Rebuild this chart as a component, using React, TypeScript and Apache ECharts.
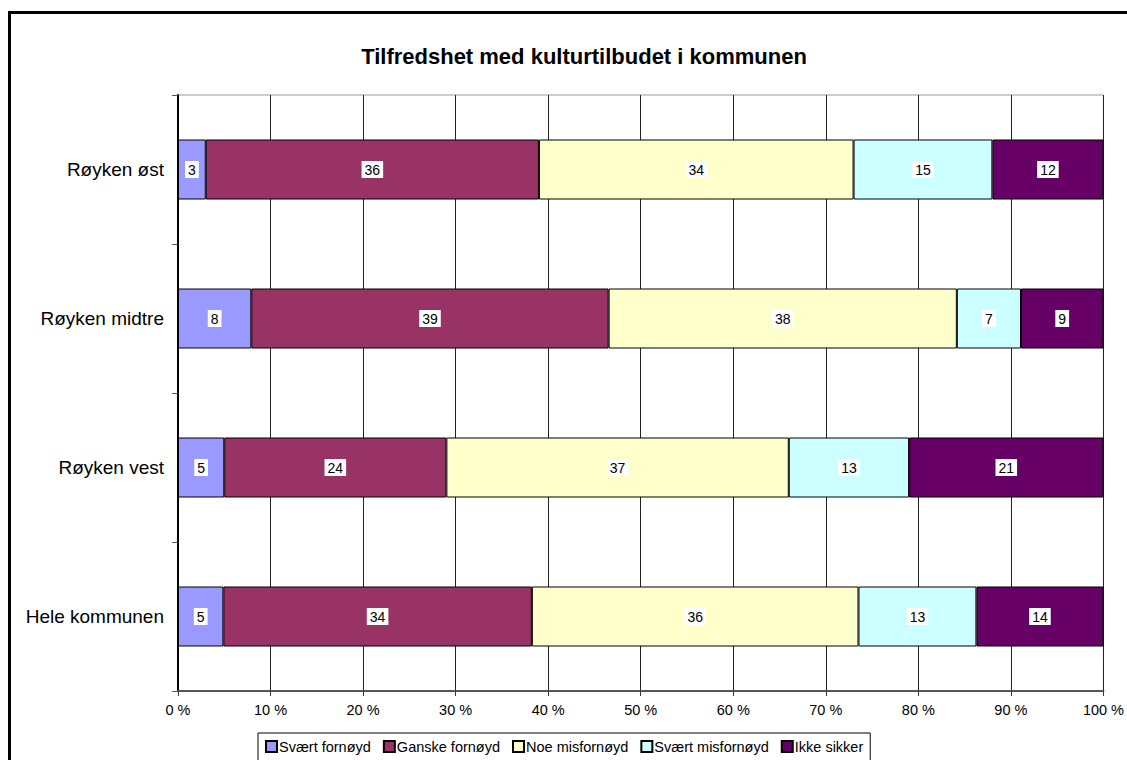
import React, { useEffect, useRef } from "react";
import * as echarts from "echarts";

const categories = ["Røyken øst", "Røyken midtre", "Røyken vest", "Hele kommunen"];
const seriesNames = ["Svært fornøyd", "Ganske fornøyd", "Noe misfornøyd", "Svært misfornøyd", "Ikke sikker"];
const sveartFornoyd = [3, 8, 5, 5];
const ganskeFornoyd = [36, 39, 24, 34];
const noeMisfornoyd = [34, 38, 37, 36];
const sveartMisfornoyd = [15, 7, 13, 13];
const ikkeSikker = [12, 9, 21, 14];
const colors = ["#9999FF", "#993366", "#FFFFCC", "#CCFFFF", "#660066"];
const xTicks = [0, 10, 20, 30, 40, 50, 60, 70, 80, 90, 100];

const FONT = "Arial, 'Liberation Sans', sans-serif";

export default function App() {
  const ref = useRef<HTMLDivElement>(null);
  useEffect(() => {
    if (!ref.current) return;
    const chart = echarts.init(ref.current, undefined, { renderer: "svg" });
    const raw = [sveartFornoyd, ganskeFornoyd, noeMisfornoyd, sveartMisfornoyd, ikkeSikker];
    const totals = categories.map((_, i) => raw.reduce((s, arr) => s + arr[i], 0));
    const series = raw.map((arr, si) => ({
      name: seriesNames[si],
      type: "bar",
      stack: "total",
      barWidth: 60,
      itemStyle: { color: colors[si], borderColor: "#000", borderWidth: 1 },
      label: {
        show: true,
        position: "inside",
        formatter: (p: any) => String(arr[p.dataIndex]),
        color: "#000",
        fontSize: 14,
        fontFamily: FONT,
        backgroundColor: "#fff",
        padding: [2, 3, 1, 3],
      },
      emphasis: { disabled: true },
      data: arr.map((v, i) => (v / totals[i]) * 100),
    }));
    chart.setOption({
      animation: false,
      backgroundColor: "#fff",
      title: {
        text: "Tilfredshet med kulturtilbudet i kommunen",
        left: 579,
        top: 40,
        textAlign: "center",
        textStyle: { fontSize: 22, fontWeight: "bold", color: "#000", fontFamily: FONT },
      },
      graphic: [
        {
          type: "rect",
          shape: { x: 9.5, y: 12.5, width: 1200, height: 800 },
          style: { fill: "none", stroke: "#000", lineWidth: 3 },
          silent: true,
          z: 100,
        },
      ],
      legend: {
        left: 258,
        top: 733,
        itemWidth: 11,
        itemHeight: 11,
        itemGap: 12,
        icon: "rect",
        borderColor: "#000",
        borderWidth: 1,
        padding: [6, 7, 10, 7],
        textStyle: { fontSize: 14.5, color: "#000", fontFamily: FONT, padding: [0, 0, 0, -3] },
        data: seriesNames,
      },
      grid: { left: 178, right: 23, top: 95, bottom: 69, show: true, borderColor: "#999", borderWidth: 1 },
      xAxis: {
        type: "value",
        min: 0,
        max: 100,
        interval: 10,
        axisLine: { show: true, lineStyle: { color: "#555", width: 2 } },
        axisTick: { show: true, length: 5, lineStyle: { color: "#333" } },
        axisLabel: {
          formatter: (v: number) => (xTicks.includes(v) ? v + " %" : ""),
          fontSize: 14.5,
          color: "#000",
          fontFamily: FONT,
          margin: 11,
        },
        splitLine: { show: true, lineStyle: { color: "#222", width: 1 } },
      },
      yAxis: {
        type: "category",
        inverse: true,
        data: categories,
        axisLine: { show: true, lineStyle: { color: "#000", width: 2 } },
        axisTick: { show: true, length: 6, inside: false, lineStyle: { color: "#555" } },
        axisLabel: { fontSize: 19, color: "#000", fontFamily: FONT, margin: 14 },
        splitLine: { show: false },
      },
      series,
    });
    return () => chart.dispose();
  }, []);
  return (
    <div
      ref={ref}
      style={{ position: "fixed", left: 0, top: 0, width: 1127, height: 760 }}
    />
  );
}
